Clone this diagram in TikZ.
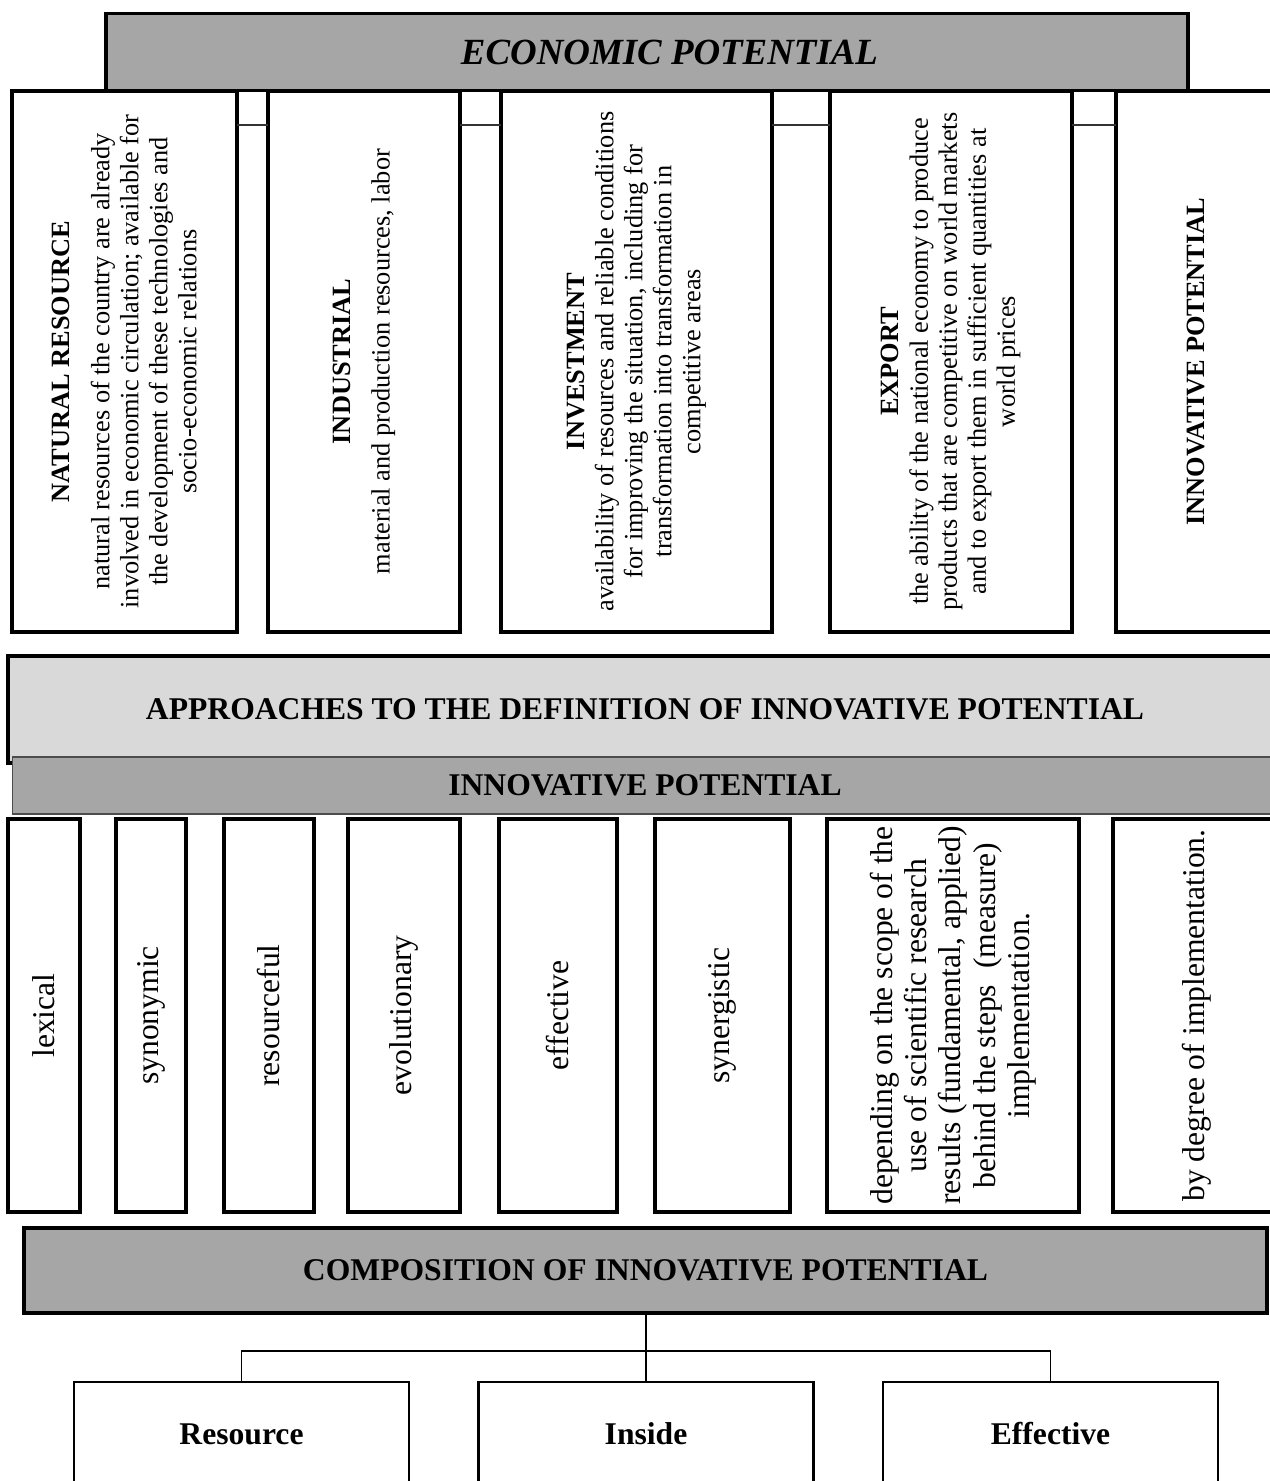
\documentclass[tikz,border=0pt]{standalone}
\usepackage{fontspec}
\setmainfont{Liberation Serif}
\usetikzlibrary{positioning}
\definecolor{darkgrey}{RGB}{166,166,166}
\definecolor{lightgrey}{RGB}{217,217,217}
\newcommand{\vlabel}[2]{\rotatebox{90}{\parbox{#1}{\centering #2}}}

\begin{document}
\begin{tikzpicture}[x=0.02cm, y=-0.02cm,
	box/.style={draw, line width=2pt, fill=white, inner sep=0pt, outer sep=0pt},
	head/.style={box, fill=darkgrey, font=\fontsize{18}{21}\selectfont\bfseries},
	topbox/.style={box, minimum height=10.82cm, font=\fontsize{15}{16.5}\selectfont},
	lowbox/.style={box, minimum height=7.86cm, font=\fontsize{18}{19.5}\selectfont},
	partbox/.style={box, line width=1.5pt, minimum width=6.7cm, minimum height=2.08cm, font=\fontsize{18}{21}\selectfont\bfseries},
	link/.style={line width=1pt},
	stripline/.style={line width=1.2pt, black!80}]
	\useasboundingbox (0,0) rectangle (1269,1481);

	% economic potential
	\node [head, minimum width=21.64cm, minimum height=1.54cm, font=\fontsize{21}{25}\selectfont\bfseries\itshape] (eco) at (647,52) {\hspace*{0.9cm}ECONOMIC POTENTIAL};

	\node [topbox, minimum width=4.5cm] (nat) at (124.5,361.5) {\vlabel{10.4cm}{\textbf{NATURAL RESOURCE}\\[6pt] natural resources of the country are already\\ involved in economic circulation; available for\\ the development of these technologies and\\ socio-economic relations}};
	\node [topbox, minimum width=3.84cm] (ind) at (364,361.5) {\vlabel{10.4cm}{\textbf{INDUSTRIAL}\\[6pt] material and production resources, labor}};
	\node [topbox, minimum width=5.42cm] (inv) at (636.5,361.5) {\vlabel{10.4cm}{\textbf{INVESTMENT}\\ availability of resources and reliable conditions\\ for improving the situation, including for\\ transformation into transformation in\\ competitive areas}};
	\node [topbox, minimum width=4.84cm] (exp) at (951,361.5) {\vlabel{10.4cm}{\textbf{EXPORT}\\ the ability of the national economy to produce\\ products that are competitive on world markets\\ and to export them in sufficient quantities at\\ world prices}};
	\node [topbox, minimum width=3.18cm] (inn) at (1195.5,361.5) {\vlabel{10.4cm}{\textbf{INNOVATIVE POTENTIAL}}};

	\coordinate (strip) at (0,125);
	\foreach \a/\b in {nat/ind, ind/inv, inv/exp, exp/inn}
		\draw [stripline] (\a.east |- strip) -- (\b.west |- strip);

	% approaches
	\node [box, fill=lightgrey, minimum width=25.48cm, minimum height=2.14cm, font=\fontsize{18}{21}\selectfont\bfseries] (app) at (645,709.5) {APPROACHES TO THE DEFINITION OF INNOVATIVE POTENTIAL};
	\node [head, draw=black!70, line width=0.6pt, minimum width=25.32cm, minimum height=1.14cm] (ipt) at (645,785.5) {INNOVATIVE POTENTIAL};

	\node [lowbox, minimum width=1.44cm] (lex) at (44,1015.5) {\vlabel{7.6cm}{lexical}};
	\node [lowbox, minimum width=1.4cm] (syn) at (151,1015.5) {\vlabel{7.6cm}{synonymic}};
	\node [lowbox, minimum width=1.8cm] (rsf) at (269,1015.5) {\vlabel{7.6cm}{resourceful}};
	\node [lowbox, minimum width=2.24cm] (evo) at (404,1015.5) {\vlabel{7.6cm}{evolutionary}};
	\node [lowbox, minimum width=2.36cm] (eft) at (558,1015.5) {\vlabel{7.6cm}{effective}};
	\node [lowbox, minimum width=2.7cm] (syg) at (722.5,1015.5) {\vlabel{7.6cm}{synergistic}};
	\node [lowbox, minimum width=5.04cm] (dep) at (953,1015.5) {\vlabel{7.7cm}{depending on the scope of the\\ use of scientific research\\ results (fundamental, applied)\\ behind the steps~ (measure)\\ implementation.}};
	\node [lowbox, minimum width=3.34cm] (deg) at (1196.5,1015.5) {\vlabel{7.7cm}{by degree of implementation.}};

	% composition
	\node [head, minimum width=24.86cm, minimum height=1.7cm] (comp) at (645.5,1270.5) {COMPOSITION OF INNOVATIVE POTENTIAL};

	\node [partbox] (res) at (241.5,1434) {Resource};
	\node [partbox] (ins) at (646,1434) {Inside};
	\node [partbox] (eff) at (1050.5,1434) {Effective};

	\coordinate (jn) at (646,1351);
	\draw [link] (comp.south -| ins) -- (ins.north);
	\draw [link] (res.north) |- (jn) -| (eff.north);
\end{tikzpicture}
\end{document}
